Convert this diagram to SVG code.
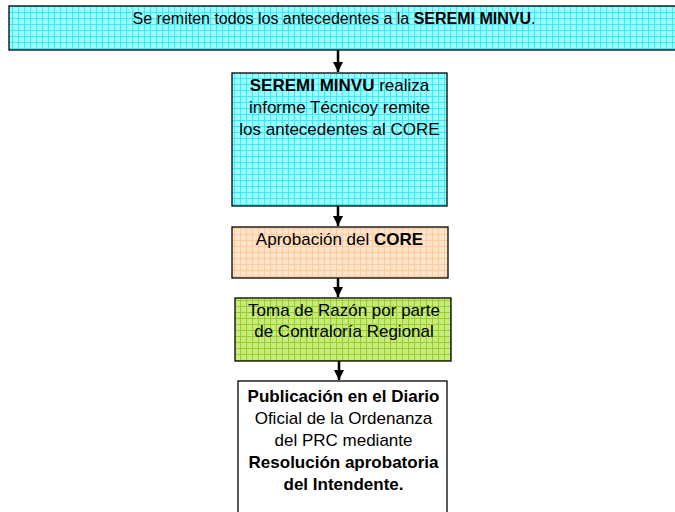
<svg xmlns="http://www.w3.org/2000/svg" width="675" height="512" viewBox="0 0 675 512">
<defs>
<pattern id="pc" width="6" height="6" patternUnits="userSpaceOnUse">
<rect width="6" height="6" fill="#9ffcff"/>
<path d="M0 0.5H6M0.5 0V6" stroke="#2ef0ff" stroke-width="1"/>
</pattern>
<pattern id="po" width="6" height="6" patternUnits="userSpaceOnUse">
<rect width="6" height="6" fill="#ffe4cc"/>
<path d="M0 0.5H6M0.5 0V6" stroke="#ffcc99" stroke-width="1"/>
</pattern>
<pattern id="pg" width="6" height="6" patternUnits="userSpaceOnUse">
<rect width="6" height="6" fill="#c8ec7a"/>
<path d="M0 0.5H6M0.5 0V6" stroke="#99cc33" stroke-width="1"/>
</pattern>
<marker id="ah" viewBox="0 0 10 10" refX="10" refY="5" markerWidth="4" markerHeight="4" markerUnits="strokeWidth" orient="auto">
<path d="M0 0L10 5L0 10Z" fill="#000"/>
</marker>
</defs>
<style>
.box{stroke:#000;stroke-width:1.3}
text{font-family:"Liberation Sans",Arial,sans-serif;font-size:17px;fill:#000;text-anchor:middle}
.b{font-weight:bold}
.conn line{stroke:#000;stroke-width:2.5;marker-end:url(#ah)}
</style>
<g id="n1">
<rect class="box" x="9" y="6" width="680" height="44" fill="url(#pc)"/>
<text x="334" y="24" style="font-size:16px">Se remiten todos los antecedentes a la <tspan class="b">SEREMI MINVU</tspan>.</text>
</g>
<g id="n2">
<rect class="box" x="232" y="73" width="215" height="133" fill="url(#pc)"/>
<text x="339.5" y="91"><tspan class="b">SEREMI MINVU</tspan> realiza</text>
<text x="339.5" y="113">informe Técnicoy remite</text>
<text x="339.5" y="135">los antecedentes al CORE</text>
</g>
<g id="n3">
<rect class="box" x="232" y="227" width="216" height="51" fill="url(#po)"/>
<text x="339.5" y="245">Aprobación del <tspan class="b">CORE</tspan></text>
</g>
<g id="n4">
<rect class="box" x="235" y="298" width="216" height="63" fill="url(#pg)"/>
<text x="344" y="316">Toma de Razón por parte</text>
<text x="344" y="337">de Contraloría Regional</text>
</g>
<g id="n5">
<rect class="box" x="238" y="381" width="209" height="140" fill="#fff"/>
<text x="343.5" y="402" class="b">Publicación en el Diario</text>
<text x="343.5" y="424">Oficial de la Ordenanza</text>
<text x="343.5" y="446">del PRC mediante</text>
<text x="343.5" y="468" class="b">Resolución aprobatoria</text>
<text x="343.5" y="490" class="b">del Intendente.</text>
</g>
<g class="conn">
<line x1="338" y1="50" x2="338" y2="72"/>
<line x1="338" y1="206" x2="338" y2="226"/>
<line x1="338" y1="278" x2="338" y2="297"/>
<line x1="339" y1="361" x2="339" y2="380"/>
</g>
</svg>
